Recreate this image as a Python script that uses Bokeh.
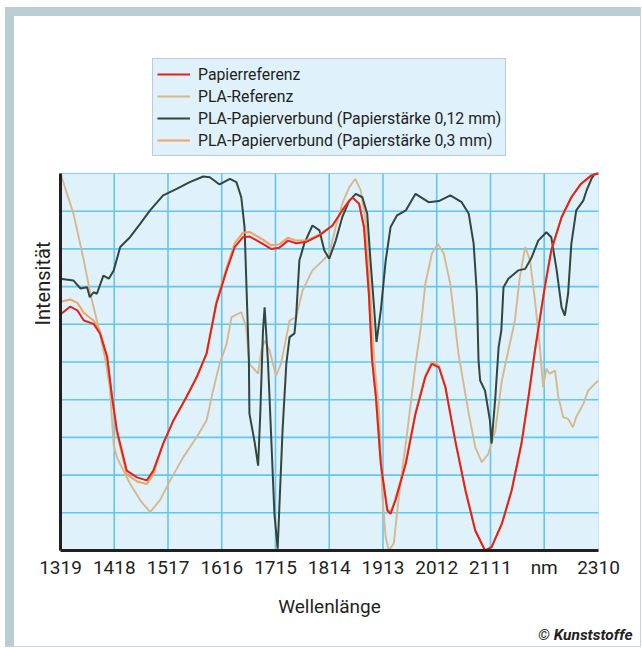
from bokeh.plotting import figure
from bokeh.models import Range1d, FixedTicker, Legend, LegendItem, Title
from bokeh.embed import file_html
from bokeh.resources import INLINE

# ---- data ----
tick_positions = [1319, 1418, 1517, 1616, 1715, 1814, 1913, 2012, 2111, 2210, 2310]
tick_labels = ["1319", "1418", "1517", "1616", "1715", "1814", "1913", "2012", "2111", "nm", "2310"]
grid_levels = [1, 2, 3, 4, 5, 6, 7, 8, 9]
y_min, y_max = 0, 10

series_names = ["Papierreferenz", "PLA-Referenz",
                "PLA-Papierverbund (Papierstärke 0,12 mm)",
                "PLA-Papierverbund (Papierstärke 0,3 mm)"]

red_wl = [1319, 1337, 1350, 1362, 1380, 1392, 1405, 1414, 1423, 1441,
          1460, 1478, 1490, 1508, 1527, 1551, 1570, 1588, 1606, 1625,
          1640, 1655, 1667, 1686, 1707, 1722, 1738, 1753, 1771, 1796,
          1820, 1838, 1851, 1857, 1869, 1878, 1887, 1893, 1900, 1909,
          1921, 1927, 1936, 1955, 1973, 1991, 2003, 2016, 2028, 2046,
          2065, 2083, 2101, 2113, 2132, 2150, 2168, 2181, 2193, 2211,
          2223, 2242, 2260, 2278, 2297, 2310]
red_int = [6.26, 6.47, 6.37, 6.10, 6.01, 5.75, 5.13, 4.07, 3.18, 2.12,
           1.94, 1.86, 2.12, 2.83, 3.45, 4.07, 4.60, 5.22, 6.54, 7.43,
           8.05, 8.31, 8.33, 8.18, 8.00, 8.03, 8.22, 8.15, 8.18, 8.36,
           8.62, 9.02, 9.28, 9.36, 9.20, 8.58, 6.81, 5.04, 4.07, 2.30,
           1.06, 0.97, 1.33, 2.30, 3.63, 4.60, 4.95, 4.86, 4.33, 2.92,
           1.59, 0.53, 0.0, 0.09, 0.71, 1.59, 2.83, 4.07, 5.31, 6.98,
           7.96, 8.84, 9.37, 9.73, 9.95, 10.0]

orange_wl = red_wl
orange_int = [6.60, 6.66, 6.57, 6.30, 6.10, 5.80, 5.13, 4.07, 3.10, 2.02,
              1.83, 1.76, 2.02, 2.83, 3.45, 4.07, 4.60, 5.22, 6.60, 7.50,
              8.15, 8.43, 8.45, 8.30, 8.10, 8.12, 8.30, 8.22, 8.22, 8.38,
              8.62, 9.02, 9.28, 9.36, 9.20, 8.58, 6.81, 5.04, 4.07, 2.30,
              1.10, 1.01, 1.37, 2.34, 3.67, 4.64, 5.00, 4.90, 4.33, 2.92,
              1.59, 0.53, 0.0, 0.09, 0.71, 1.59, 2.83, 4.07, 5.31, 6.98,
              7.96, 8.84, 9.37, 9.73, 9.95, 10.0]

dark_wl = [1319, 1343, 1356, 1368, 1373, 1380, 1386, 1398, 1408, 1417,
           1429, 1447, 1466, 1484, 1508, 1533, 1557, 1582, 1594, 1612,
           1631, 1643, 1652, 1658, 1662, 1666, 1667, 1677, 1683, 1687,
           1692, 1695, 1701, 1704, 1713, 1719, 1728, 1735, 1741, 1750,
           1753, 1759, 1768, 1783, 1796, 1805, 1814, 1826, 1838, 1851,
           1863, 1875, 1884, 1890, 1897, 1901, 1909, 1918, 1927, 1939,
           1955, 1973, 1997, 2016, 2037, 2058, 2071, 2080, 2086, 2089,
           2092, 2101, 2110, 2113, 2120, 2126, 2131, 2135, 2144, 2162,
           2175, 2187, 2199, 2214, 2223, 2233, 2242, 2248, 2254, 2260,
           2269, 2282, 2288, 2297, 2303, 2310]
dark_int = [7.21, 7.16, 6.95, 6.98, 6.72, 6.85, 6.81, 7.29, 7.21, 7.43,
            8.05, 8.31, 8.67, 9.02, 9.42, 9.59, 9.77, 9.92, 9.90, 9.71,
            9.86, 9.77, 9.37, 8.58, 6.81, 5.04, 3.63, 2.84, 2.25, 3.63,
            5.84, 6.45, 5.04, 4.07, 0.98, 0.05, 3.18, 4.96, 5.66, 5.76,
            6.19, 7.69, 8.14, 8.62, 8.49, 7.96, 7.74, 8.22, 8.84, 9.28,
            9.46, 9.37, 8.93, 7.69, 6.37, 5.53, 6.37, 7.69, 8.58, 8.89,
            9.02, 9.46, 9.24, 9.27, 9.42, 9.24, 8.93, 8.14, 6.81, 5.04,
            4.51, 4.24, 3.45, 2.84, 4.07, 5.39, 5.84, 6.98, 7.21, 7.43,
            7.47, 7.78, 8.22, 8.44, 8.31, 7.43, 6.45, 6.23, 6.81, 8.14,
            9.02, 9.28, 9.55, 9.86, 9.99, 10.0]

tan_wl = [1319, 1343, 1362, 1374, 1389, 1402, 1410, 1417, 1423, 1447,
          1466, 1484, 1502, 1521, 1545, 1570, 1588, 1600, 1612, 1625,
          1634, 1652, 1661, 1664, 1667, 1683, 1689, 1695, 1704, 1716,
          1725, 1735, 1741, 1753, 1765, 1783, 1802, 1814, 1826, 1838,
          1851, 1862, 1872, 1881, 1890, 1897, 1906, 1912, 1918, 1924,
          1933, 1942, 1958, 1973, 1982, 1991, 2003, 2014, 2025, 2037,
          2052, 2071, 2083, 2095, 2107, 2120, 2132, 2144, 2156, 2165,
          2175, 2184, 2193, 2202, 2208, 2214, 2220, 2230, 2236, 2245,
          2254, 2263, 2269, 2282, 2291, 2303, 2310]
tan_int = [10.0, 8.93, 7.69, 6.81, 5.92, 5.04, 4.30, 2.79, 2.47, 1.77,
           1.33, 1.02, 1.33, 1.86, 2.47, 3.01, 3.45, 4.24, 4.95, 5.48,
           6.19, 6.32, 5.92, 5.44, 4.95, 4.69, 5.31, 5.57, 5.31, 4.64,
           4.95, 5.66, 6.10, 6.19, 6.90, 7.43, 7.69, 7.87, 8.58, 9.20,
           9.64, 9.86, 9.55, 8.75, 6.81, 5.04, 3.63, 1.41, 0.35, 0.0,
           0.19, 1.41, 3.18, 4.95, 5.84, 7.07, 7.87, 8.14, 7.87, 7.07,
           5.22, 3.63, 2.74, 2.34, 2.56, 3.18, 4.51, 5.31, 6.10, 7.25,
           8.05, 7.69, 6.63, 5.39, 4.33, 4.82, 4.69, 4.77, 4.07, 3.54,
           3.49, 3.27, 3.54, 3.89, 4.24, 4.42, 4.50]

# ---- layout / styling ----
FONT = "Roboto"
TXT = "#231F20"
RED = "#E2231A"
TAN = "#D6B88C"
DARK = "#34453D"
ORANGE = "#F5A060"
FRAME = "#BCCCD5"
PANEL = "#DFF1FB"
GRID = "#62C6EE"

W, H = 636, 640
FRAME_TOP, FRAME_BOTTOM = 0, 534       # canvas px; frame extends up to hold the legend
CHART_TOP = 157                         # canvas px where intensity 10 sits
y_end = y_max * (FRAME_BOTTOM - FRAME_TOP) / (FRAME_BOTTOM - CHART_TOP)

p = figure(width=W, height=H, title=None,
           x_range=Range1d(tick_positions[0], tick_positions[-1]),
           y_range=Range1d(y_min, y_end),
           output_backend="svg", toolbar_location=None,
           min_border_left=46, min_border_right=52,
           min_border_top=FRAME_TOP, min_border_bottom=H - FRAME_BOTTOM)
p.styles = {"margin-left": "5px", "margin-top": "7px",
            "border-left": f"9px solid {FRAME}", "border-top": f"9px solid {FRAME}",
            "border-right": "1px solid #C9D4DB", "border-bottom": "1px solid #C9D4DB"}

p.background_fill_color = "white"
p.border_fill_color = "white"
p.outline_line_color = None
p.xgrid.visible = False
p.ygrid.visible = False

# chart area with light blue fill and outline
p.quad(left=[tick_positions[0]], right=[tick_positions[-1]], bottom=[y_min], top=[y_max],
       fill_color=PANEL, line_color="#86CFEE", line_width=1, level="image")

# grid lines
inner_ticks = tick_positions[1:-1]
p.segment(x0=inner_ticks, x1=inner_ticks, y0=[y_min] * len(inner_ticks), y1=[y_max] * len(inner_ticks),
          line_color=GRID, line_width=1.6, level="underlay")
p.segment(x0=[tick_positions[0]] * len(grid_levels), x1=[tick_positions[-1]] * len(grid_levels),
          y0=grid_levels, y1=grid_levels, line_color=GRID, line_width=1.6, level="underlay")

# x axis
xa = p.xaxis[0]
xa.ticker = FixedTicker(ticks=tick_positions)
xa.major_label_overrides = {t: l for t, l in zip(tick_positions, tick_labels)}
xa.major_tick_out = 0
xa.major_tick_in = 0
xa.minor_tick_out = 0
xa.minor_tick_in = 0
xa.major_label_standoff = 5
xa.major_label_text_font = FONT
xa.major_label_text_font_size = "19px"
xa.major_label_text_color = TXT
xa.axis_label = "Wellenlänge"
xa.axis_label_text_font = FONT
xa.axis_label_text_font_size = "19px"
xa.axis_label_text_font_style = "normal"
xa.axis_label_text_color = TXT
xa.axis_label_standoff = 13
xa.axis_line_color = TXT
xa.axis_line_width = 3

# y axis
ya = p.yaxis[0]
ya.bounds = (y_min, y_max)
ya.ticker = FixedTicker(ticks=[])
ya.major_tick_out = 0
ya.major_tick_in = 0
ya.minor_tick_out = 0
ya.minor_tick_in = 0
ya.axis_label = "Intensität"
ya.axis_label_text_font = FONT
ya.axis_label_text_font_size = "20px"
ya.axis_label_text_font_style = "normal"
ya.axis_label_text_color = TXT
ya.axis_label_standoff = 6
ya.axis_line_color = TXT
ya.axis_line_width = 3

# lines
r_tan = p.line(tan_wl, tan_int, line_color=TAN, line_width=1.9)
r_dark = p.line(dark_wl, dark_int, line_color=DARK, line_width=2)
r_orange = p.line(orange_wl, orange_int, line_color=ORANGE, line_width=2)
r_red = p.line(red_wl, red_int, line_color=RED, line_width=2)

legend = Legend(items=[LegendItem(label=series_names[0], renderers=[r_red]),
                       LegendItem(label=series_names[1], renderers=[r_tan]),
                       LegendItem(label=series_names[2], renderers=[r_dark]),
                       LegendItem(label=series_names[3], renderers=[r_orange])],
                location=(92, 394), orientation="vertical",
                padding=4, spacing=0, margin=0,
                glyph_width=33, glyph_height=22, label_height=22, label_standoff=8,
                label_text_font=FONT, label_text_font_size="15.8px", label_text_color=TXT,
                background_fill_color=PANEL, background_fill_alpha=1,
                border_line_color="#9AA6AE", border_line_width=1.5)
p.add_layout(legend, "center")

credit = Title(text="© Kunststoffe", align="right", offset=-34, standoff=6,
               text_font=FONT, text_font_size="15.5px", text_font_style="bold italic",
               text_color=TXT)
p.add_layout(credit, "below")

open("out.html", "w").write(file_html(p, INLINE))
